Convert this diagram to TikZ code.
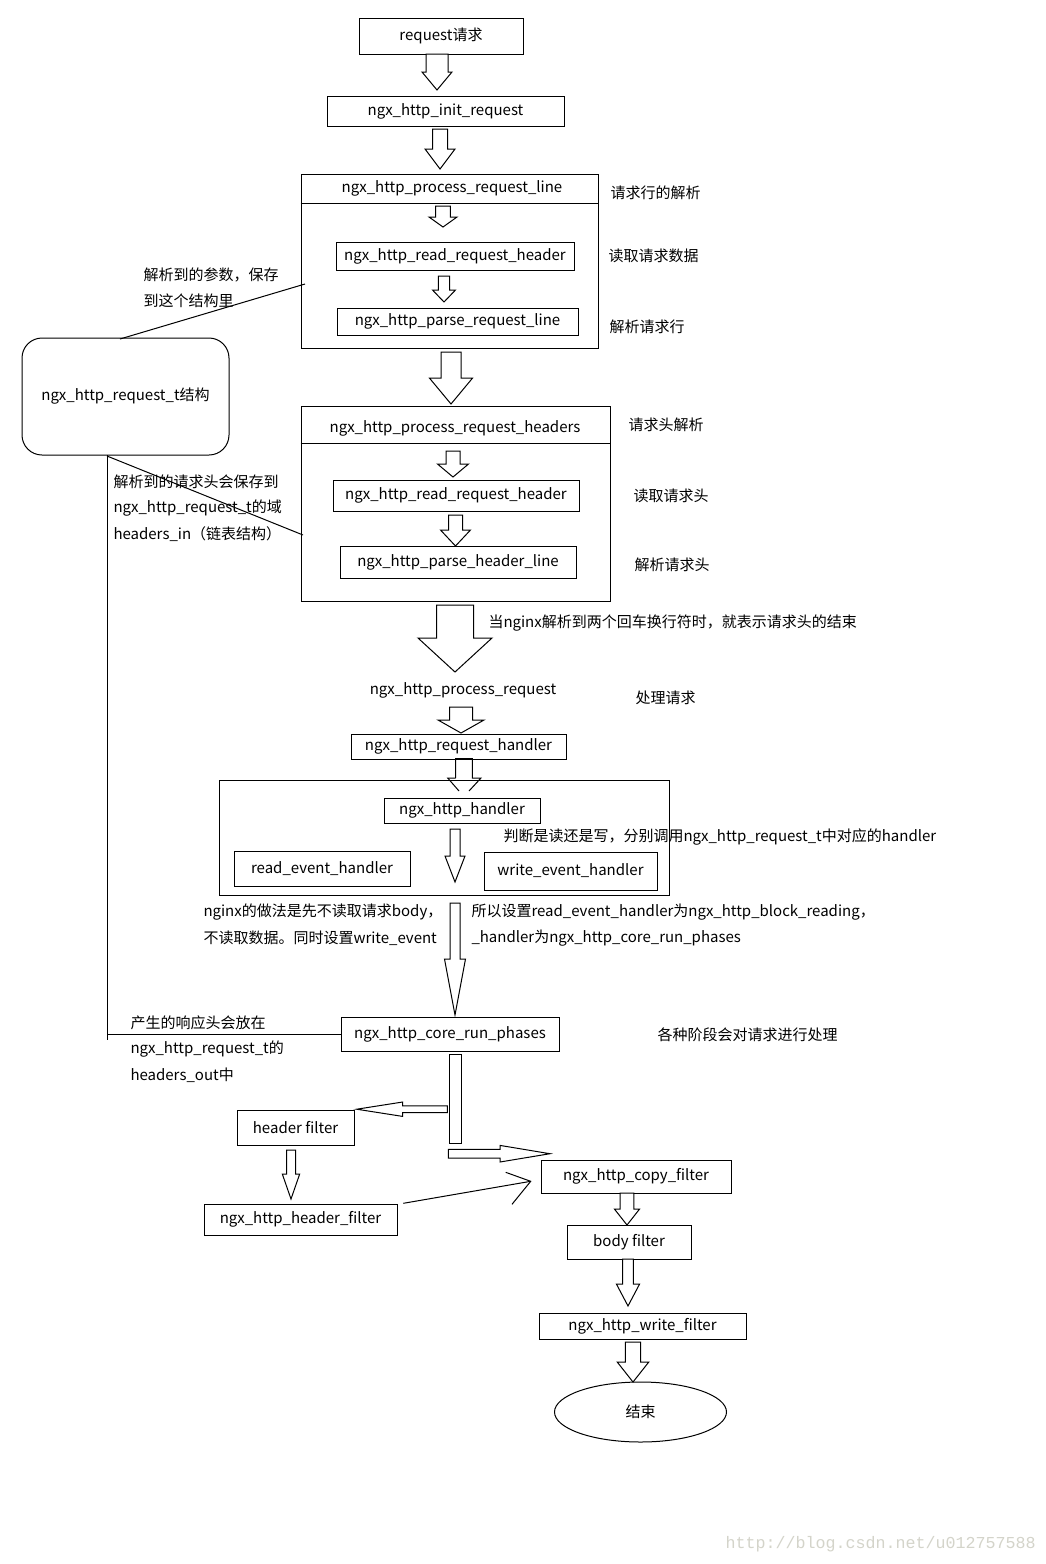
\documentclass[tikz,border=0pt]{standalone}
\usepackage{fontspec}
\setmainfont{Noto Sans CJK SC}
\newfontfamily\wmfont{Liberation Mono}
\usetikzlibrary{shapes.geometric}
\definecolor{wm}{RGB}{212,212,202}
% vertical block arrow: xc, ytop, ytip, shaft half, head half, head base y
\newcommand\varr[6]{\draw[blk] (#1-#4,#2) -- (#1+#4,#2) -- (#1+#4,#6) -- (#1+#5,#6) -- (#1,#3) -- (#1-#5,#6) -- (#1-#4,#6) -- cycle;}
% horizontal block arrow: yc, xstart, xtip, shaft half, head half, head base x
\newcommand\harr[6]{\draw[blk] (#2,#1-#4) -- (#6,#1-#4) -- (#6,#1-#5) -- (#3,#1) -- (#6,#1+#5) -- (#6,#1+#4) -- (#2,#1+#4) -- cycle;}
% box from corners: [style] x1 y1 x2 y2 name text
\newcommand\bbox[7][]{\pgfmathsetmacro\bw{(#4-#2)*0.75}\pgfmathsetmacro\bh{(#5-#3)*0.75}%
  \node[bx,minimum width=\bw pt,minimum height=\bh pt,#1] (#6) at ({(#2+#4)/2},{(#3+#5)/2}) {#7};}
\begin{document}
\begin{tikzpicture}[x=0.75pt,y=-0.75pt,line width=0.75pt,
  font=\fontsize{11.25pt}{13pt}\selectfont,
  bx/.style={draw,inner sep=0pt},
  lbl/.style={anchor=west,inner sep=0pt},
  blk/.style={draw,fill=white,line join=miter}]
\useasboundingbox (0,0) rectangle (1046,1564);
\fill[white] (0,0) rectangle (1046,1564);

% top chain
\bbox{359}{18}{523}{54}{req}{request请求}
\varr{437}{54}{90}{11}{15}{72}
\bbox{327}{96}{564}{126}{init}{ngx\_http\_init\_request}
\varr{440}{129}{169}{7.5}{15}{149}

% process request line block
\bbox{301}{174}{598}{348}{prl}{}
\draw (prl.west |- 0,203) -- (prl.east |- 0,203);
\node (prlt) at (452,188) {ngx\_http\_process\_request\_line};
\varr{443}{206}{227}{7.3}{14}{217}
\bbox{336}{242}{574}{270}{rrh1}{ngx\_http\_read\_request\_header}
\varr{444}{276}{302}{5.7}{11.5}{290}
\bbox{337}{308}{578}{335}{prq}{ngx\_http\_parse\_request\_line}
\node[lbl] (l1) at (610,193) {请求行的解析};
\node[lbl] (l2) at (608,256) {读取请求数据};
\node[lbl] (l3) at (609,327) {解析请求行};

% request_t structure
\bbox[rounded corners=15pt]{22}{338}{229}{455}{rt}{ngx\_http\_request\_t结构}
\coordinate (d1a) at (305,284);
\coordinate (d1b) at (120,339);
\draw (d1a) -- (d1b);
\node[lbl] (p1) at (143,275) {解析到的参数，保存};
\node[lbl] (p2) at (143,301) {到这个结构里};

\varr{451}{352}{404}{10}{21.6}{378}

% process request headers block
\bbox{301}{406}{610}{601}{prh}{}
\draw (prh.west |- 0,443) -- (prh.east |- 0,443);
\node (prht) at (455,428) {ngx\_http\_process\_request\_headers};
\varr{453}{451}{477}{7}{15.5}{464}
\bbox{333}{480}{579}{511}{rrh2}{ngx\_http\_read\_request\_header}
\varr{455.5}{515}{546}{7}{15}{530}
\bbox{340}{546}{576}{578}{phl}{ngx\_http\_parse\_header\_line}
\node[lbl] (l4) at (628,425) {请求头解析};
\node[lbl] (l5) at (633,496) {读取请求头};
\node[lbl] (l6) at (634,565) {解析请求头};

\coordinate (d2a) at (107,456);
\coordinate (d2b) at (303,535);
\draw (d2a) -- (d2b);
\node[lbl] (h1) at (113,482) {解析到的请求头会保存到};
\node[lbl] (h2) at (113,508) {ngx\_http\_request\_t的域};
\node[lbl] (h3) at (113,534) {headers\_in（链表结构）};

% end of headers
\varr{455}{605}{672}{18.5}{37}{638}
\node[lbl] (e1) at (488,623) {当nginx解析到两个回车换行符时，就表示请求头的结束};
\node (pr) at (463,690) {ngx\_http\_process\_request};
\node[lbl] (l7) at (635,698) {处理请求};
\varr{461}{707}{733}{11.5}{23}{720}
\bbox{351}{734}{566}{759}{rh}{ngx\_http\_request\_handler}

% handler block
\bbox{219}{780}{669}{895}{hb}{}
\draw (455.7,778) -- (455.7,758.5) -- (472.3,758.5) -- (472.3,778) -- (481,778) -- (469,791);
\draw (455.7,778) -- (447.7,778) -- (459,791);
\draw[line width=2pt] (456,759) -- (472,759);
\bbox{384}{798}{540}{823}{hh}{ngx\_http\_handler}
\varr{455}{829}{882}{5}{10}{856}
\bbox{234}{851}{410}{886}{reh}{read\_event\_handler}
\bbox{484}{852}{657}{890}{weh}{write\_event\_handler}
\node[lbl] (j1) at (503,837) {判断是读还是写，分别调用ngx\_http\_request\_t中对应的handler};

\varr{455}{903}{1015}{5}{10.5}{959}
\node[lbl] (n1) at (203,912) {nginx的做法是先不读取请求body，};
\node[lbl] (n2) at (203,938) {不读取数据。同时设置write\_event};
\node[lbl] (n3) at (471,912) {所以设置read\_event\_handler为ngx\_http\_block\_reading，};
\node[lbl] (n4) at (471,938) {\_handler为ngx\_http\_core\_run\_phases};

% core run phases
\bbox{341}{1017}{559}{1051}{crp}{ngx\_http\_core\_run\_phases}
\node[lbl] (l8) at (657,1035) {各种阶段会对请求进行处理};
\coordinate (vtop) at (107,455);
\coordinate (vbot) at (107,1040);
\draw (vtop) -- (vbot);
\draw (crp.west -| vtop) -- (crp.west);
\node[lbl] (o1) at (130,1023) {产生的响应头会放在};
\node[lbl] (o2) at (130,1049) {ngx\_http\_request\_t的};
\node[lbl] (o3) at (130,1075) {headers\_out中};

% filters
\draw[blk] (449.3,1054.3) rectangle (461.3,1143.3);
\harr{1109.2}{447.3}{356.7}{3.3}{7.2}{402.7}
\harr{1153.7}{448.3}{550}{4.4}{8.3}{500}
\bbox{237}{1110}{354}{1145}{hf}{header filter}
\varr{291}{1150}{1199}{4.5}{8.7}{1174}
\bbox{204}{1204}{397}{1235}{nhf}{ngx\_http\_header\_filter}
\coordinate (oa1) at (403.3,1203.3);
\coordinate (oa2) at (530.7,1181.3);
\draw (oa1) -- (oa2);
\draw (505.7,1172.3) -- (oa2) -- (512,1204.3);
\bbox{541}{1160}{731}{1193}{cf}{ngx\_http\_copy\_filter}
\varr{627}{1193}{1225}{6.8}{12.6}{1209}
\bbox{567}{1225}{691}{1259}{bf}{body filter}
\varr{628}{1259}{1306}{5.3}{11.6}{1284}
\bbox{539}{1313}{746}{1339}{wf}{ngx\_http\_write\_filter}
\varr{633}{1342}{1382}{7.7}{15.8}{1362}
\node[draw,ellipse,inner sep=0pt,minimum width=129pt,minimum height=45pt] (end) at (640.5,1412) {结束};

% watermark
\node[lbl,text=wm,font=\wmfont\fontsize{12.5pt}{14pt}\selectfont] (wmk) at (725,1544) {http://blog.csdn.net/u012757588};
\end{tikzpicture}
\end{document}
